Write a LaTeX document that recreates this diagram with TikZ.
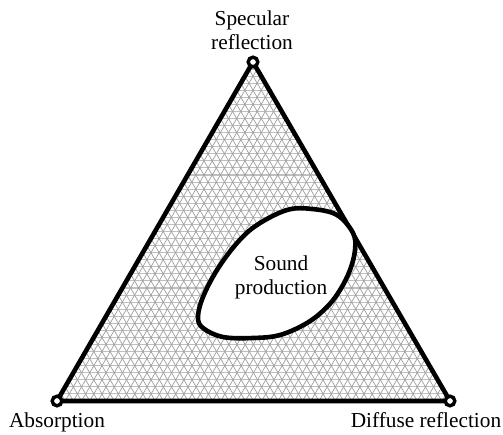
\documentclass[tikz,border=0pt]{standalone}
\usepackage{fontspec}
\setmainfont{Liberation Serif}
\begin{document}
\begin{tikzpicture}[x=1pt,y=-1pt,
  hgrid/.style={draw=gray!50,line width=1.1pt},
  dgrid/.style={draw=gray!75,line width=0.7pt},
  edge/.style={line width=4.6pt,line join=round},
  vertexring/.style={draw,line width=3.4pt,fill=white},
  lbl/.style={anchor=base,inner sep=0pt,font=\fontsize{21.3}{24}\selectfont}]
\useasboundingbox (0,0) rectangle (503,435);
\coordinate (T) at (253,62);
\coordinate (L) at (57,401);
\coordinate (R) at (450,401);
\begin{scope}
  \clip (L)--(R)--(T)--cycle;
  \fill[white] (L)--(R)--(T)--cycle;
  \foreach \k in {1,...,47}{
    \draw[hgrid] (40,{401-\k*7.0625}) -- (470,{401-\k*7.0625});
  }
  \foreach \k in {1,...,47}{
    \draw[dgrid] ({57+\k*8.1875},401) -- ++(196,-339);
    \draw[dgrid] ({57+\k*8.1875},401) -- ++(-197,-339);
  }
\end{scope}
\draw[edge] (L)--(R)--(T)--cycle;
\draw[edge,fill=white] plot[smooth cycle,tension=0.6] coordinates {
  (287,210) (312,209) (337,215) (353,233) (355,250) (350,270) (340,290)
  (327,307) (307,323) (280,335) (253,338) (223,337) (203,328) (198,317)
  (203,297) (217,270) (237,243) (257,225)};
\draw[vertexring] (T) circle (4.8);
\draw[vertexring] (L) circle (4.8);
\draw[vertexring] (R) circle (4.8);
\node[lbl] (spec1) at (252,26) {Specular};
\node[lbl] (spec2) at (252,50) {reflection};
\node[lbl] (abs) at (57,427) {Absorption};
\node[lbl] (diff) at (426,427) {Diffuse reflection};
\node[lbl] (snd1) at (281,271) {Sound};
\node[lbl] (snd2) at (281,295) {production};
\end{tikzpicture}
\end{document}
